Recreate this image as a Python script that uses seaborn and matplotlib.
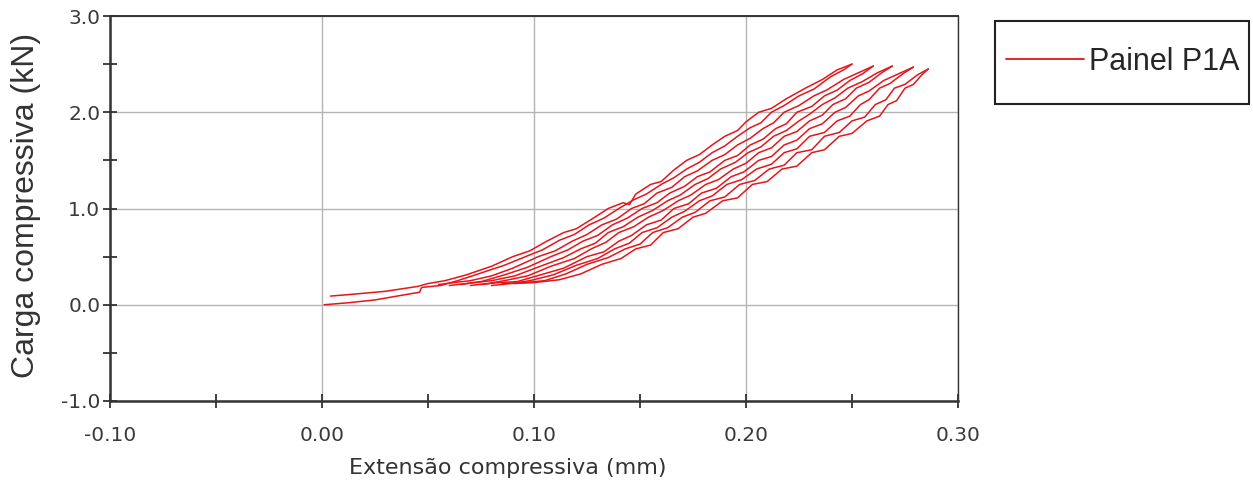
import matplotlib
matplotlib.use("Agg")
import matplotlib.pyplot as plt
import seaborn as sns
import pandas as pd
from matplotlib.ticker import MultipleLocator
from matplotlib.patches import Rectangle

# ---- data ----
x_ticks = [-0.10, 0.00, 0.10, 0.20, 0.30]
x_tick_labels = ["-0.10", "0.00", "0.10", "0.20", "0.30"]
y_ticks = [-1.0, 0.0, 1.0, 2.0, 3.0]
y_tick_labels = ["-1.0", "0.0", "1.0", "2.0", "3.0"]
series_name = "Painel P1A"

s0_x = [0.004, 0.015, 0.030, 0.045, 0.050, 0.058, 0.068, 0.080, 0.090, 0.098, 0.106, 0.114, 0.120, 0.128, 0.135, 0.142, 0.145, 0.148, 0.155, 0.160, 0.166, 0.172, 0.178, 0.184, 0.190, 0.196, 0.200, 0.206, 0.212, 0.219, 0.228, 0.236, 0.243, 0.250]
s0_y = [0.09, 0.11, 0.14, 0.19, 0.22, 0.25, 0.31, 0.40, 0.50, 0.56, 0.66, 0.75, 0.79, 0.90, 1.00, 1.06, 1.04, 1.15, 1.25, 1.28, 1.40, 1.50, 1.56, 1.66, 1.75, 1.81, 1.90, 2.00, 2.04, 2.14, 2.25, 2.34, 2.44, 2.50]

s1_x = [0.001, 0.012, 0.025, 0.038, 0.046, 0.047, 0.056, 0.064, 0.075, 0.086, 0.096, 0.104, 0.112, 0.119, 0.126, 0.133, 0.140, 0.147, 0.153, 0.160, 0.166, 0.172, 0.178, 0.184, 0.190, 0.196, 0.202, 0.207, 0.212, 0.218, 0.225, 0.232, 0.240, 0.246, 0.250]
s1_y = [0.00, 0.02, 0.05, 0.10, 0.13, 0.18, 0.20, 0.25, 0.33, 0.41, 0.50, 0.57, 0.67, 0.73, 0.83, 0.90, 1.00, 1.09, 1.15, 1.25, 1.32, 1.41, 1.48, 1.58, 1.65, 1.75, 1.84, 1.89, 2.00, 2.07, 2.17, 2.24, 2.37, 2.44, 2.50]

s2_x = [0.055, 0.062, 0.070, 0.080, 0.090, 0.102, 0.110, 0.118, 0.125, 0.132, 0.139, 0.146, 0.152, 0.158, 0.165, 0.171, 0.177, 0.184, 0.190, 0.196, 0.202, 0.208, 0.213, 0.218, 0.225, 0.232, 0.238, 0.246, 0.253, 0.260]
s2_y = [0.21, 0.23, 0.25, 0.30, 0.38, 0.50, 0.56, 0.66, 0.73, 0.83, 0.89, 1.00, 1.05, 1.16, 1.22, 1.33, 1.39, 1.50, 1.56, 1.66, 1.73, 1.83, 1.89, 2.00, 2.07, 2.17, 2.23, 2.34, 2.41, 2.48]

s3_x = [0.060, 0.068, 0.075, 0.086, 0.097, 0.108, 0.116, 0.123, 0.130, 0.137, 0.144, 0.151, 0.158, 0.164, 0.171, 0.177, 0.183, 0.190, 0.196, 0.202, 0.208, 0.214, 0.219, 0.224, 0.231, 0.237, 0.243, 0.249, 0.255, 0.260]
s3_y = [0.20, 0.22, 0.24, 0.31, 0.39, 0.50, 0.57, 0.66, 0.72, 0.83, 0.90, 1.00, 1.06, 1.16, 1.23, 1.33, 1.38, 1.50, 1.55, 1.66, 1.72, 1.83, 1.88, 2.00, 2.06, 2.17, 2.23, 2.33, 2.40, 2.48]

s4_x = [0.065, 0.072, 0.080, 0.091, 0.103, 0.114, 0.122, 0.129, 0.135, 0.142, 0.149, 0.156, 0.163, 0.169, 0.176, 0.182, 0.188, 0.195, 0.201, 0.207, 0.213, 0.219, 0.225, 0.230, 0.236, 0.242, 0.248, 0.255, 0.262, 0.269]
s4_y = [0.21, 0.23, 0.25, 0.30, 0.40, 0.49, 0.58, 0.64, 0.75, 0.81, 0.91, 0.98, 1.08, 1.14, 1.25, 1.31, 1.41, 1.48, 1.58, 1.64, 1.75, 1.81, 1.91, 1.98, 2.08, 2.15, 2.25, 2.32, 2.41, 2.48]

s5_x = [0.070, 0.078, 0.086, 0.097, 0.108, 0.119, 0.127, 0.134, 0.140, 0.147, 0.154, 0.161, 0.168, 0.174, 0.181, 0.187, 0.194, 0.200, 0.206, 0.212, 0.218, 0.224, 0.230, 0.236, 0.241, 0.247, 0.252, 0.258, 0.264, 0.269]
s5_y = [0.20, 0.22, 0.25, 0.30, 0.40, 0.48, 0.58, 0.65, 0.75, 0.81, 0.91, 0.98, 1.08, 1.14, 1.25, 1.30, 1.41, 1.47, 1.58, 1.63, 1.75, 1.80, 1.91, 1.97, 2.08, 2.14, 2.25, 2.31, 2.41, 2.48]

s6_x = [0.075, 0.083, 0.092, 0.103, 0.114, 0.125, 0.133, 0.140, 0.146, 0.153, 0.160, 0.166, 0.173, 0.179, 0.186, 0.193, 0.199, 0.206, 0.212, 0.218, 0.224, 0.230, 0.236, 0.242, 0.247, 0.253, 0.258, 0.265, 0.272, 0.279]
s6_y = [0.21, 0.23, 0.24, 0.31, 0.38, 0.50, 0.55, 0.66, 0.72, 0.83, 0.88, 1.00, 1.05, 1.16, 1.21, 1.33, 1.38, 1.50, 1.54, 1.66, 1.71, 1.83, 1.88, 2.00, 2.05, 2.17, 2.22, 2.33, 2.40, 2.47]

s7_x = [0.080, 0.089, 0.098, 0.109, 0.120, 0.130, 0.138, 0.145, 0.151, 0.158, 0.165, 0.171, 0.178, 0.184, 0.191, 0.198, 0.205, 0.212, 0.218, 0.224, 0.230, 0.237, 0.243, 0.249, 0.254, 0.258, 0.263, 0.268, 0.274, 0.279]
s7_y = [0.20, 0.22, 0.25, 0.31, 0.41, 0.48, 0.58, 0.64, 0.75, 0.80, 0.91, 0.97, 1.08, 1.13, 1.25, 1.30, 1.41, 1.46, 1.58, 1.62, 1.75, 1.79, 1.91, 1.96, 2.08, 2.13, 2.25, 2.30, 2.40, 2.47]

s8_x = [0.085, 0.095, 0.105, 0.115, 0.125, 0.135, 0.143, 0.150, 0.156, 0.163, 0.170, 0.176, 0.183, 0.190, 0.197, 0.204, 0.211, 0.218, 0.224, 0.231, 0.237, 0.244, 0.250, 0.256, 0.261, 0.266, 0.270, 0.275, 0.281, 0.286]
s8_y = [0.22, 0.23, 0.25, 0.32, 0.42, 0.49, 0.58, 0.63, 0.75, 0.80, 0.91, 0.96, 1.08, 1.12, 1.25, 1.29, 1.41, 1.45, 1.58, 1.61, 1.75, 1.79, 1.91, 1.95, 2.08, 2.13, 2.25, 2.29, 2.39, 2.45]

s9_x = [0.090, 0.100, 0.112, 0.122, 0.132, 0.141, 0.148, 0.155, 0.161, 0.168, 0.175, 0.181, 0.189, 0.196, 0.203, 0.210, 0.217, 0.224, 0.231, 0.237, 0.244, 0.250, 0.257, 0.263, 0.267, 0.271, 0.275, 0.279, 0.283, 0.286]
s9_y = [0.22, 0.23, 0.26, 0.32, 0.42, 0.48, 0.58, 0.62, 0.75, 0.79, 0.91, 0.95, 1.08, 1.11, 1.25, 1.28, 1.41, 1.44, 1.58, 1.61, 1.75, 1.78, 1.91, 1.96, 2.08, 2.12, 2.25, 2.29, 2.39, 2.45]

strands = [(s0_x, s0_y), (s1_x, s1_y), (s2_x, s2_y), (s3_x, s3_y), (s4_x, s4_y),
           (s5_x, s5_y), (s6_x, s6_y), (s7_x, s7_y), (s8_x, s8_y), (s9_x, s9_y)]

rows = []
for i, (xs, ys) in enumerate(strands):
    for k, (xv, yv) in enumerate(zip(xs, ys)):
        rows.append({"x": xv, "y": yv, "strand": i, "order": k, "serie": series_name})
df = pd.DataFrame(rows)

# ---- plot ----
sns.set_style("white")
plt.rcParams['font.family'] = ['DejaVu Sans']

W, H = 1253, 493
fig = plt.figure(figsize=(W / 100, H / 100), dpi=100)
ax = fig.add_axes([110 / W, 1 - 401 / H, 848 / W, 385 / H])

red = "#e3161c"
sns.lineplot(data=df, x="x", y="y", units="strand", estimator=None, sort=False,
             color=red, linewidth=1.1, ax=ax, legend=False)

ax.set_xlim(-0.10, 0.30)
ax.set_ylim(-1.0, 3.0)
ax.set_xticks(x_ticks)
ax.set_xticklabels(x_tick_labels)
ax.set_yticks(y_ticks)
ax.set_yticklabels(y_tick_labels)
ax.xaxis.set_minor_locator(MultipleLocator(0.05))
ax.yaxis.set_minor_locator(MultipleLocator(0.5))
ax.grid(True, which="major", color="#b4b4b4", linewidth=1.0)
ax.set_axisbelow(True)

ax.tick_params(axis="x", which="both", bottom=True, top=False)
ax.tick_params(axis="y", which="both", left=True, right=False)
ax.tick_params(axis="both", which="both", direction="inout", length=10, width=1.3,
               color="#333333")
ax.tick_params(axis="x", which="major", labelsize=14.5, labelcolor="#3a3a3a", pad=13)
ax.tick_params(axis="y", which="major", labelsize=14.5, labelcolor="#3a3a3a", pad=2)

for side, sp in ax.spines.items():
    sp.set_visible(True)
    sp.set_color("#333333")
    sp.set_linewidth(1.0)
ax.spines["left"].set_linewidth(1.8)
ax.spines["bottom"].set_linewidth(1.8)
ax.spines["top"].set_linewidth(1.4)

ax.set_xlabel("Extensão compressiva (mm)", fontsize=16, color="#333333")
ax.xaxis.set_label_coords((508 - 110) / 848, -(468 - 401) / 385)
ax.xaxis.label.set_va("center")
ax.set_ylabel("Carga compressiva (kN)", fontsize=23, color="#333333",
              family=["Liberation Sans"])
ax.yaxis.set_label_coords((26 - 110) / 848, (401 - 205) / 385)
ax.yaxis.label.set_va("center")

# legend box and entry
fig.patches.append(Rectangle((995 / W, 1 - 104 / H), 254 / W, 83 / H,
                             transform=fig.transFigure, facecolor="white",
                             edgecolor="#222222", linewidth=1.5))
handle = plt.Line2D([], [], color=red, linewidth=1.3)
leg = fig.legend([handle], [series_name], loc="center left",
                 bbox_to_anchor=(1006 / W, 1 - 62 / H), frameon=False,
                 handlelength=2.55, handletextpad=0.18, borderpad=0,
                 borderaxespad=0,
                 prop={"family": "Liberation Sans", "size": 22})

fig.savefig("out.png", dpi=100)
